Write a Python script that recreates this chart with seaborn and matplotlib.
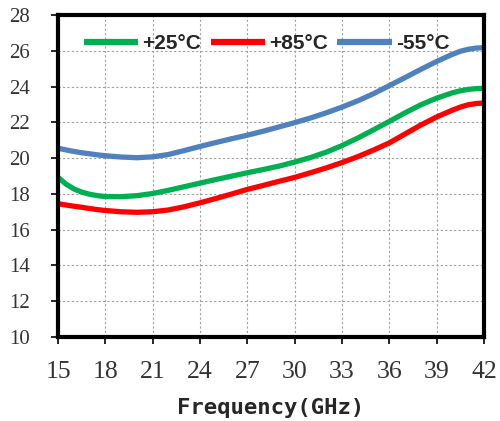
import numpy as np
import pandas as pd
import seaborn as sns
import matplotlib
matplotlib.use("Agg")
import matplotlib.pyplot as plt

freq = [15, 15.5, 16, 16.5, 17, 17.5, 18, 19, 20, 21, 22, 23, 24, 25, 26, 27, 28, 29, 30, 31, 32, 33, 34, 35, 36, 37, 38, 39, 40, 40.5, 41, 41.5, 42]
gain_p25 = [18.93, 18.55, 18.28, 18.10, 17.98, 17.90, 17.85, 17.84, 17.90, 18.02, 18.20, 18.40, 18.60, 18.80, 18.99, 19.18, 19.36, 19.55, 19.78, 20.03, 20.33, 20.70, 21.12, 21.58, 22.05, 22.53, 22.98, 23.35, 23.65, 23.76, 23.84, 23.88, 23.90]
gain_p85 = [17.45, 17.38, 17.31, 17.25, 17.18, 17.12, 17.07, 17.00, 16.97, 17.00, 17.10, 17.28, 17.50, 17.74, 17.99, 18.25, 18.47, 18.70, 18.92, 19.18, 19.45, 19.75, 20.08, 20.45, 20.85, 21.35, 21.85, 22.30, 22.68, 22.85, 22.98, 23.05, 23.08]
gain_m55 = [20.55, 20.46, 20.37, 20.30, 20.24, 20.18, 20.13, 20.06, 20.02, 20.07, 20.20, 20.42, 20.65, 20.87, 21.08, 21.28, 21.50, 21.74, 21.98, 22.24, 22.53, 22.85, 23.20, 23.60, 24.05, 24.50, 24.96, 25.40, 25.80, 25.97, 26.08, 26.15, 26.17]
series = ["+25°C", "+85°C", "-55°C"]
colors = ["#00B050", "#FF0000", "#4F81BD"]
xticks = [15, 18, 21, 24, 27, 30, 33, 36, 39, 42]
yticks = [10, 12, 14, 16, 18, 20, 22, 24, 26, 28]
xlabel = "Frequency(GHz)"

df = pd.concat([
    pd.DataFrame({"freq": freq, "gain": vals, "temp": name})
    for name, vals in zip(series, [gain_p25, gain_p85, gain_m55])
])

sns.set_style("white")
fig = plt.figure(figsize=(5.0, 4.21), dpi=100)
ax = fig.add_axes([0.116, 0.1995, 0.852, 0.765])

sns.lineplot(data=df, x="freq", y="gain", hue="temp", hue_order=series,
             palette=dict(zip(series, colors)), linewidth=3.8, ax=ax,
             sort=False, estimator=None)
for ln in ax.get_lines():
    ln.set_solid_capstyle("butt")
    ln.set_solid_joinstyle("round")

ax.set_xlim(15, 42)
ax.set_ylim(10, 28)
ax.set_xticks(xticks)
ax.set_yticks(yticks)
ax.grid(True, color="#a0a0a0", linestyle=(0, (2, 2)), linewidth=0.8)
for s in ax.spines.values():
    s.set_color("black")
    s.set_linewidth(3.0)
    s.set_visible(True)
ax.tick_params(axis="both", direction="out", length=5, width=1.2, color="black",
               left=True, bottom=True)
ax.tick_params(axis="x", labelsize=18.5, pad=12)
ax.tick_params(axis="y", labelsize=15, pad=15)
for lab in ax.get_xticklabels() + ax.get_yticklabels():
    lab.set_family("Liberation Serif")
    lab.set_color("#333333")
ax.set_ylabel("")
ax.set_xlabel(xlabel, family="DejaVu Sans Mono", fontweight="bold",
              fontsize=16, labelpad=11)

leg = ax.legend(loc="center", bbox_to_anchor=(0.49, 0.91), ncol=3, frameon=False,
                handlelength=2.6, handletextpad=0.2, columnspacing=0.45,
                prop={"family": "Liberation Sans", "weight": "bold", "size": 15})
for line in leg.get_lines():
    line.set_linewidth(4.5)

fig.savefig("out.png", dpi=100)
